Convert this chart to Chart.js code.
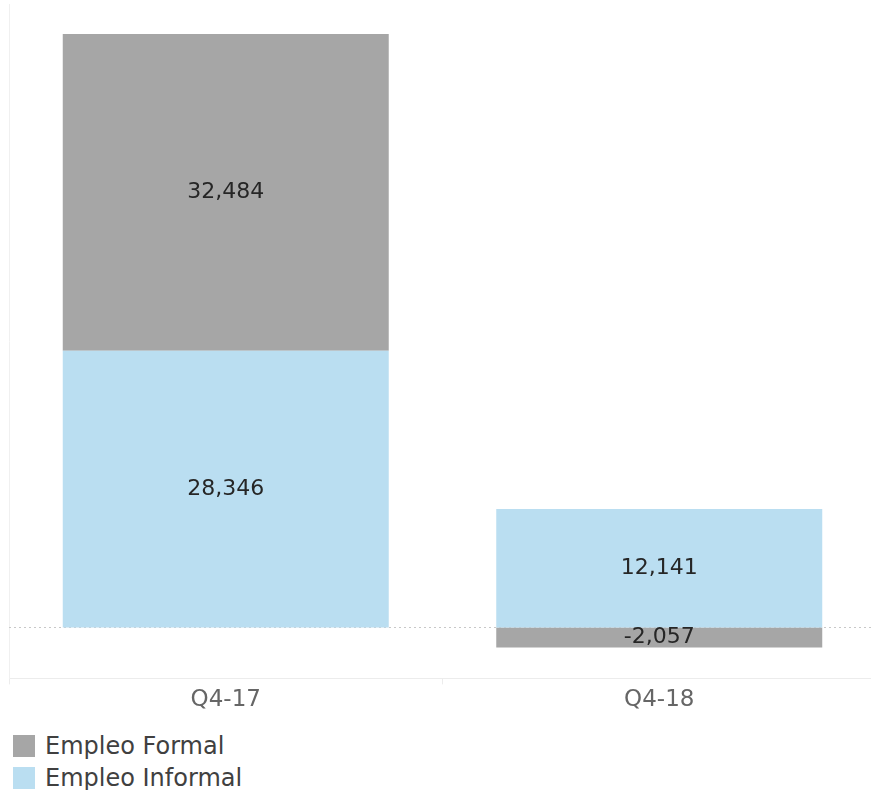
<!DOCTYPE html>
<html>
<head>
<meta charset="utf-8">
<script src="https://cdn.jsdelivr.net/npm/chart.js@4/dist/chart.umd.min.js"></script>
<style>
  body { margin: 0; background: #fff; font-family: "DejaVu Sans", sans-serif; }
  #wrap { position: relative; width: 871px; height: 790px; overflow: hidden; }
  #chartBox { position: absolute; left: 0; top: 0; width: 876px; height: 716px; }
  #legend { position: absolute; left: 13px; top: 730px; }
  .item { display: flex; align-items: center; height: 32px; font-size: 24px; color: #404040; }
  .swatch { width: 22px; height: 22px; margin-right: 10px; }
</style>
</head>
<body>
<div id="wrap">
  <div id="chartBox"><canvas id="chart"></canvas></div>
  <div id="legend"></div>
</div>
<script>
// data
var categories = ['Q4-17', 'Q4-18'];
var formal = [32484, -2057];
var informal = [28346, 12141];
var seriesNames = ['Empleo Formal', 'Empleo Informal'];
var seriesColors = ['#a6a6a6', '#badef1'];

// zero line, dotted
var zeroLine = {
  id: 'zeroLine',
  beforeDatasetsDraw: function(chart) {
    var y = chart.scales.y.getPixelForValue(0);
    var ctx = chart.ctx;
    ctx.save();
    ctx.strokeStyle = '#c8c8c8';
    ctx.lineWidth = 1;
    ctx.setLineDash([2, 3]);
    ctx.beginPath();
    ctx.moveTo(chart.chartArea.left, Math.round(y) + 0.5);
    ctx.lineTo(chart.chartArea.right, Math.round(y) + 0.5);
    ctx.stroke();
    ctx.restore();
  }
};

// value labels in the middle of each segment
var valueLabels = {
  id: 'valueLabels',
  afterDatasetsDraw: function(chart) {
    var ctx = chart.ctx;
    ctx.save();
    ctx.font = '22px "DejaVu Sans", sans-serif';
    ctx.fillStyle = '#262626';
    ctx.textAlign = 'center';
    ctx.textBaseline = 'middle';
    chart.data.datasets.forEach(function(ds, i) {
      chart.getDatasetMeta(i).data.forEach(function(bar, j) {
        var v = ds.data[j];
        var mid = (bar.y + bar.base) / 2;
        ctx.fillText(v.toLocaleString('en-US'), bar.x, mid);
      });
    });
    ctx.restore();
  }
};

var ctx = document.getElementById('chart').getContext('2d');
new Chart(ctx, {
  type: 'bar',
  data: {
    labels: categories,
    datasets: [{
      label: seriesNames[1],
      data: informal,
      backgroundColor: seriesColors[1]
    }, {
      label: seriesNames[0],
      data: formal,
      backgroundColor: seriesColors[0]
    }]
  },
  options: {
    responsive: true,
    maintainAspectRatio: false,
    animation: false,
    layout: { padding: { left: 1, top: 4, right: 0, bottom: 0 } },
    datasets: { bar: { categoryPercentage: 0.752, barPercentage: 1 } },
    plugins: {
      legend: { display: false },
      tooltip: { enabled: false }
    },
    scales: {
      x: {
        stacked: true,
        grid: { display: true, offset: true, drawOnChartArea: false, tickLength: 6, color: '#ececec' },
        border: { display: true, color: '#ececec' },
        ticks: { color: '#666666', font: { size: 23, family: '"DejaVu Sans", sans-serif' }, padding: 2 }
      },
      y: {
        stacked: true,
        min: -5230,
        max: 63900,
        grid: { display: false },
        border: { display: true, color: '#f0f0f0' },
        ticks: { display: false }
      }
    }
  },
  plugins: [zeroLine, valueLabels]
});

// legend, same order as the reference
var legend = document.getElementById('legend');
seriesNames.forEach(function(name, i) {
  var item = document.createElement('div');
  item.className = 'item';
  item.innerHTML = '<span class="swatch" style="background:' + seriesColors[i] + '"></span>' + name;
  legend.appendChild(item);
});
</script>
</body>
</html>
